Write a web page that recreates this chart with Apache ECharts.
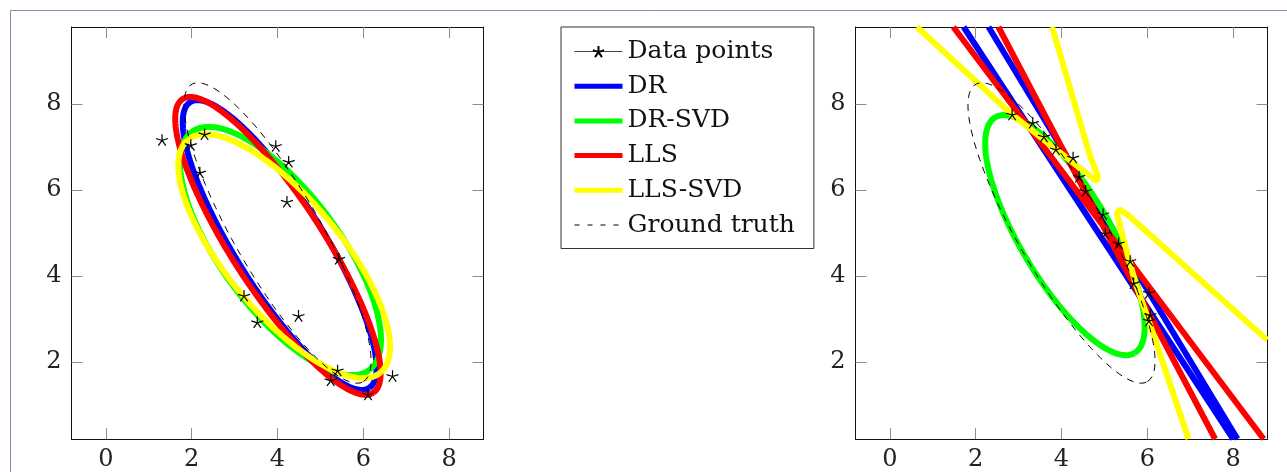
<!DOCTYPE html>
<html>
<head>
<meta charset="utf-8">
<title>Conic fits</title>
<script src="https://cdn.jsdelivr.net/npm/echarts@6/dist/echarts.min.js"></script>
<style>
  html, body { margin: 0; padding: 0; background: #fff; }
  #chart { width: 1287px; height: 472px; }
</style>
</head>
<body>
<div id="chart"></div>
<script>
// points
const leftPoints = [[1.31, 7.17], [1.98, 7.05], [2.30, 7.30], [2.19, 6.41], [3.96, 7.03], [4.26, 6.66], [4.22, 5.73], [5.43, 4.40], [3.22, 3.54], [3.53, 2.92], [4.49, 3.07], [5.40, 1.80], [5.24, 1.57], [6.11, 1.24], [6.68, 1.67]]
const rightPoints = [[2.85, 7.76], [3.33, 7.57], [3.59, 7.25], [3.87, 6.95], [4.27, 6.76], [4.41, 6.31], [4.56, 5.98], [4.97, 5.44], [5.02, 4.99], [5.33, 4.76], [5.60, 4.35], [5.68, 3.83], [6.04, 3.61], [6.07, 3.09], [6.04, 2.96]]

// fitted ellipses: [cx, cy, semi-major, semi-minor, angle deg]
const truthEllipse = [4.0, 5.0, 4.0, 1.0, -60]
const drLeft = [4.05, 4.72, 3.93, 1.03, -58]
const drSvdLeft = [4.07, 4.58, 3.46, 1.37, -53.3]
const llsLeft = [4.01, 4.70, 4.08, 1.06, -57]
const llsSvdLeft = [4.155, 4.46, 3.52, 1.33, -50.4]
const drSvdRight = [4.08, 4.95, 3.19, 1.05, -59.4]

// degenerate / hyperbolic fits on the right (traced)
const drRight = [[1.72, 9.8], [8.0, 0.2], null, [2.30, 9.8], [8.1, 0.2]]
const llsRight = [[1.48, 9.8], [8.71, 0.2], null, [2.53, 9.8], [7.58, 0.2]]
const llsSvdRight = [
  [0.63, 9.8], [2.85, 7.76], [3.87, 6.95], [4.59, 6.39], [4.76, 6.25], [4.84, 6.22], [4.84, 6.35], [4.67, 6.78], [4.28, 8.10], [3.78, 9.8],
  null,
  [6.96, 0.2], [6.1, 2.75], [5.72, 3.85], [5.58, 4.35], [5.38, 5.1], [5.29, 5.45], [5.35, 5.55], [5.55, 5.42], [8.79, 2.51]
]

const xTicks = [0, 2, 4, 6, 8]
const yTicks = [2, 4, 6, 8]

const serif = 'DejaVu Serif'
const starPath = 'path://M0,-10L0,0M9.51,-3.09L0,0M5.88,8.09L0,0M-5.88,8.09L0,0M-9.51,-3.09L0,0'

function ellipse(p) {
  const [cx, cy, a, b, deg] = p
  const th = deg * Math.PI / 180
  const pts = []
  for (let i = 0; i <= 240; i++) {
    const t = i / 240 * 2 * Math.PI
    pts.push([
      cx + a * Math.cos(t) * Math.cos(th) - b * Math.sin(t) * Math.sin(th),
      cy + a * Math.cos(t) * Math.sin(th) + b * Math.sin(t) * Math.cos(th)
    ])
  }
  return pts
}

function xAx(grid, top) {
  return {
    type: 'value', gridIndex: grid, position: top ? 'top' : 'bottom',
    min: -0.8, max: 8.8,
    axisLine: { show: true, onZero: false, lineStyle: { color: '#111', width: 1 } },
    splitLine: { show: false },
    axisTick: { show: true, inside: true, length: 11, customValues: xTicks, lineStyle: { color: '#8c8c8c', width: 1 } },
    axisLabel: { show: !top, customValues: xTicks, margin: 9, fontFamily: serif, fontSize: 24, color: '#222' }
  }
}

function yAx(grid, right) {
  return {
    type: 'value', gridIndex: grid, position: right ? 'right' : 'left',
    min: 0.2, max: 9.8,
    axisLine: { show: true, onZero: false, lineStyle: { color: '#111', width: 1 } },
    splitLine: { show: false },
    axisTick: { show: true, inside: true, length: 11, customValues: yTicks, lineStyle: { color: '#8c8c8c', width: 1 } },
    axisLabel: { show: !right, customValues: yTicks, margin: 10, fontFamily: serif, fontSize: 24, color: '#222' }
  }
}

function curve(name, data, color, axis) {
  return {
    name, type: 'line', data, xAxisIndex: axis, yAxisIndex: axis,
    symbol: 'none', connectNulls: false,
    lineStyle: { color, width: 6 },
    itemStyle: { color, opacity: 0 }
  }
}

function truth(axis) {
  return {
    name: 'Ground truth', type: 'line', data: ellipse(truthEllipse), xAxisIndex: axis, yAxisIndex: axis,
    symbol: 'none',
    lineStyle: { color: '#000', width: 1, type: [7, 6] },
    itemStyle: { color: '#000', opacity: 0 }
  }
}

function points(data, axis) {
  return {
    name: 'Data points', type: 'line', data, xAxisIndex: axis, yAxisIndex: axis,
    symbol: starPath, symbolSize: 12, symbolKeepAspect: true, showAllSymbol: true,
    lineStyle: { opacity: 0 },
    itemStyle: { color: 'rgba(0,0,0,0)', borderColor: '#000', borderWidth: 1.2 }
  }
}

const hideDot = { opacity: 0 }

const option = {
  animation: false,
  backgroundColor: '#fff',
  graphic: [{
    type: 'rect', silent: true,
    shape: { x: 10.5, y: 10.5, width: 1300, height: 500 },
    style: { fill: 'none', stroke: '#7a8fb2', lineWidth: 1 }
  }],
  grid: [
    { left: 71.5, top: 27, width: 412, height: 412 },
    { left: 855.5, top: 27, width: 412, height: 412 }
  ],
  xAxis: [xAx(0, false), xAx(0, true), xAx(1, false), xAx(1, true)],
  yAxis: [yAx(0, false), yAx(0, true), yAx(1, false), yAx(1, true)],
  legend: {
    orient: 'vertical', left: 561, top: 27,
    selectedMode: false,
    itemWidth: 48, itemHeight: 14, itemGap: 9.7,
    padding: [12, 19, 11, 11],
    borderColor: '#333', borderWidth: 1,
    textStyle: { fontFamily: serif, fontSize: 25, lineHeight: 25, color: '#111' },
    lineStyle: { width: 5 },
    data: [
      { name: 'Data points', lineStyle: { color: '#444', width: 1, opacity: 1 } },
      { name: 'DR', itemStyle: hideDot },
      { name: 'DR-SVD', itemStyle: hideDot },
      { name: 'LLS', itemStyle: hideDot },
      { name: 'LLS-SVD', itemStyle: hideDot },
      { name: 'Ground truth', itemStyle: hideDot, lineStyle: { width: 1, type: [5, 8] } }
    ]
  },
  series: [
    curve('DR', ellipse(drLeft), '#0000ff', 0),
    curve('DR-SVD', ellipse(drSvdLeft), '#00ff00', 0),
    curve('LLS', ellipse(llsLeft), '#ff0000', 0),
    curve('LLS-SVD', ellipse(llsSvdLeft), '#ffff00', 0),
    truth(0),
    points(leftPoints, 0),
    curve('DR', drRight, '#0000ff', 2),
    curve('DR-SVD', ellipse(drSvdRight), '#00ff00', 2),
    curve('LLS', llsRight, '#ff0000', 2),
    curve('LLS-SVD', llsSvdRight, '#ffff00', 2),
    truth(2),
    points(rightPoints, 2)
  ]
}

const chart = echarts.init(document.getElementById('chart'))
chart.setOption(option)
</script>
</body>
</html>
